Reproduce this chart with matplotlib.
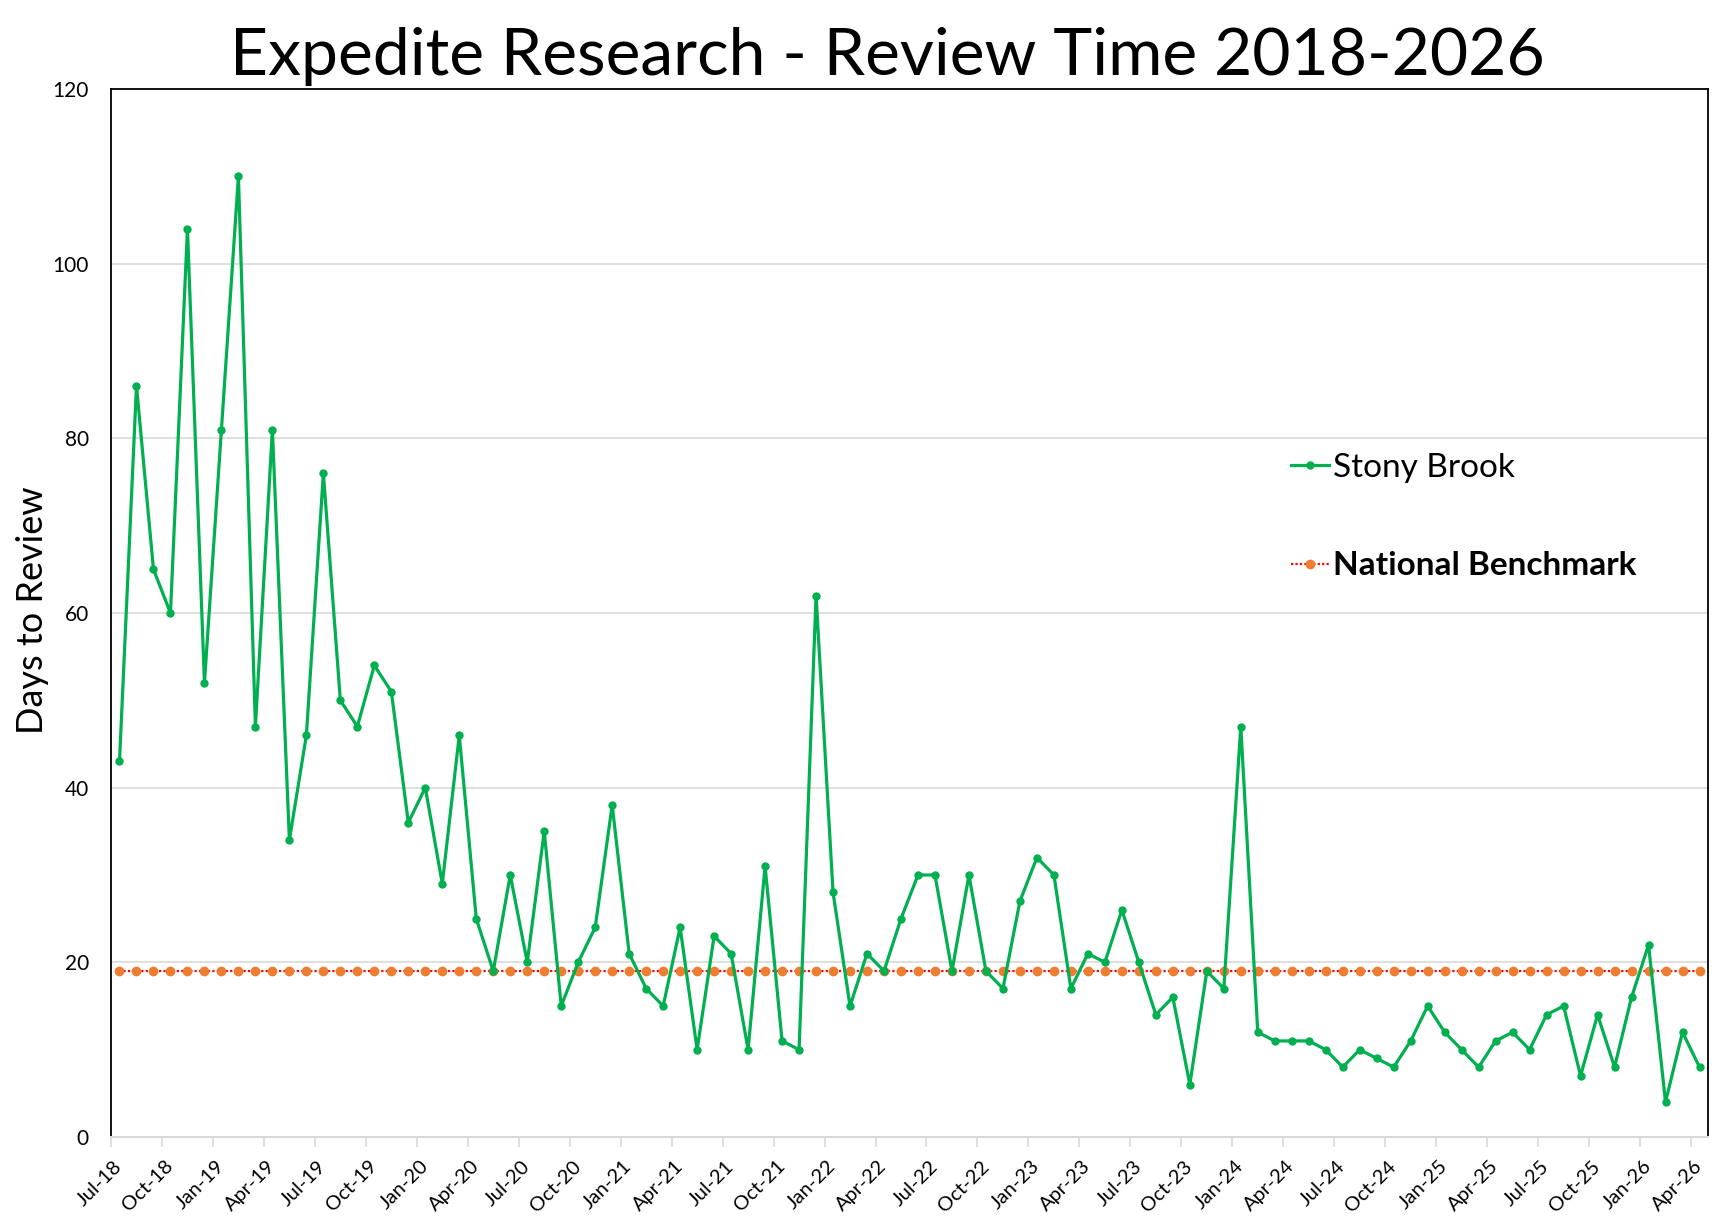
import numpy as np
import matplotlib.pyplot as plt
from matplotlib.ticker import FixedLocator
from matplotlib.transforms import ScaledTranslation

plt.rcParams['font.family'] = ['Lato', 'DejaVu Sans']

# Monthly categories Jul-18 .. Apr-26
month_names = ['Jan', 'Feb', 'Mar', 'Apr', 'May', 'Jun',
               'Jul', 'Aug', 'Sep', 'Oct', 'Nov', 'Dec']
months = []
for year in range(2018, 2027):
    for m in range(12):
        if (year == 2018 and m < 6) or (year == 2026 and m > 3):
            continue
        months.append(f"{month_names[m]}-{str(year)[2:]}")

stony_brook = [43, 86, 65, 60, 104, 52, 81, 110, 47, 81,
               34, 46, 76, 50, 47, 54, 51, 36, 40, 29,
               46, 25, 19, 30, 20, 35, 15, 20, 24, 38,
               21, 17, 15, 24, 10, 23, 21, 10, 31, 11,
               10, 62, 28, 15, 21, 19, 25, 30, 30, 19,
               30, 19, 17, 27, 32, 30, 17, 21, 20, 26,
               20, 14, 16, 6, 19, 17, 47, 12, 11, 11,
               11, 10, 8, 10, 9, 8, 11, 15, 12, 10,
               8, 11, 12, 10, 14, 15, 7, 14, 8, 16,
               22, 4, 12, 8]
benchmark = [19] * len(months)

x = np.arange(len(months))

fig = plt.figure(figsize=(17.2, 12.21), dpi=100)
ax = fig.add_axes([111 / 1720, 1 - 1137 / 1221, 1597 / 1720, 1048 / 1221])

ax.plot(x, benchmark, color='#FF0000', linestyle=(0, (1, 1.0)), linewidth=1.6,
        marker='o', markersize=6, markerfacecolor='#ED7D31',
        markeredgecolor='#ED7D31', label='National Benchmark', zorder=3)
ax.plot(x, stony_brook, color='#00B050', linewidth=2.3, marker='o',
        markersize=5, label='Stony Brook', zorder=4)

ax.set_xlim(-0.5, len(months) - 0.5)
ax.set_ylim(0, 120)
ax.set_yticks(range(0, 121, 20))
ax.yaxis.grid(True, color='#D9D9D9', linewidth=1.2)
ax.set_axisbelow(True)

# labels every quarter, tick marks on category boundaries
ax.set_xticks(x[::3])
ax.set_xticklabels(months[::3], rotation=45, ha='right', va='center',
                   rotation_mode='anchor', fontsize=14.5)
shift = ScaledTranslation(7 / 100, 0, fig.dpi_scale_trans)
for lab in ax.get_xticklabels():
    lab.set_transform(lab.get_transform() + shift)
ax.xaxis.set_minor_locator(FixedLocator(np.arange(-0.5, len(months) - 1, 3)))
ax.tick_params(axis='x', which='major', length=0, pad=19)
ax.tick_params(axis='x', which='minor', length=7, color='#D9D9D9', width=1.2)
ax.tick_params(axis='y', length=0, labelsize=15, pad=16)

for side in ['top', 'left', 'right']:
    ax.spines[side].set_color('black')
    ax.spines[side].set_linewidth(1.3)
ax.spines['bottom'].set_color('#D9D9D9')
ax.spines['bottom'].set_linewidth(1.5)

ax.set_ylabel('Days to Review', fontsize=26)
ax.yaxis.set_label_coords(-0.039, 0.503)
fig.suptitle('Expedite Research - Review Time 2018-2026', fontsize=47.5,
             x=0.516, y=0.978, va='top')

handles, labels = ax.get_legend_handles_labels()
leg = ax.legend(handles[::-1], labels[::-1], loc='center left',
                bbox_to_anchor=(0.739, 0.592), frameon=False, fontsize=24,
                handlelength=1.13, handletextpad=0.12, labelspacing=2.05,
                borderpad=0, borderaxespad=0)
leg.get_texts()[1].set_fontweight('bold')

fig.savefig('out.png', dpi=100, facecolor='white')
